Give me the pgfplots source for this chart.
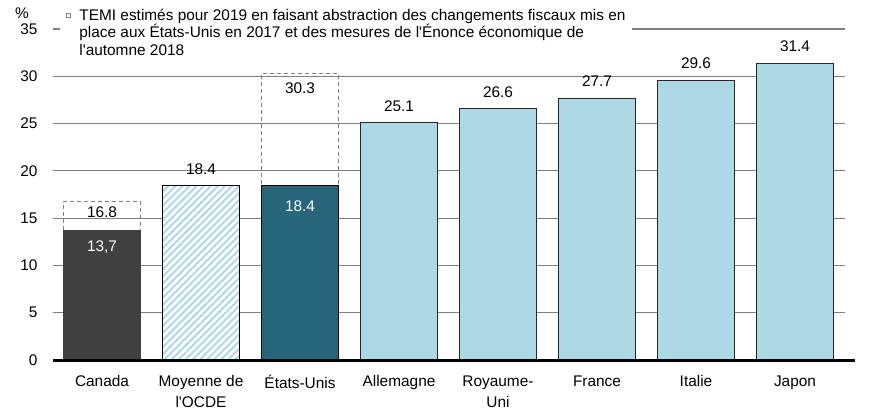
\documentclass[border=0pt]{standalone}
\usepackage{fontspec}
\setmainfont{Liberation Sans}
\usepackage{pgfplots}
\pgfplotsset{compat=1.18}
\usetikzlibrary{patterns.meta}
\definecolor{cdark}{HTML}{404040}
\definecolor{cteal}{HTML}{27667A}
\definecolor{clight}{HTML}{ADD8E6}
\definecolor{cgrid}{HTML}{808080}
\newcommand{\q}{\textquotesingle}
\begin{document}
\fontsize{7.7}{9}\selectfont
\begin{tikzpicture}
\begin{axis}[
  at={(0,0)}, anchor=south west,
  scale only axis, width=396pt, height=165.5pt,
  xmin=-0.495, xmax=7.505, ymin=0, ymax=35,
  axis line style={draw=none},
  xtick={0,...,7},
  xticklabels={Canada, {Moyenne de\\l\q OCDE}, États-Unis, Allemagne, {Royaume-\\Uni}, France, Italie, Japon},
  xticklabel style={align=center, font=\fontsize{7.7}{10.5}\selectfont, anchor=north, yshift=-5pt},
  ytick={0,5,...,35},
  yticklabel style={font=\fontsize{7.7}{9}\selectfont, xshift=-5pt},
  tick style={draw=none},
  ymajorgrids, grid style={cgrid, line width=0.6pt},
  /pgf/number format/assume math mode=true,
  bar width=0.77,
  clip=false,
  point meta=explicit symbolic,
  every node near coord/.append style={font=\fontsize{7.7}{9}\selectfont, inner sep=0pt},
]
% dashed boxes (estimates)
\addplot[ybar, bar shift=0pt, draw=gray, dash pattern=on 2pt off 1.5pt, line width=0.6pt, fill=none,
  nodes near coords, nodes near coords style={anchor=north, yshift=-2.5pt}]
  coordinates {(0,16.8) [16.8]};
\addplot[ybar, bar shift=0pt, draw=gray, dash pattern=on 2pt off 1.5pt, line width=0.6pt, fill=none,
  nodes near coords, nodes near coords style={anchor=north, yshift=-4.2pt}]
  coordinates {(2,30.3) [30.3]};
% Canada
\addplot[ybar, bar shift=0pt, fill=cdark, draw=cdark, line width=0.5pt,
  nodes near coords, nodes near coords style={anchor=north, yshift=-5pt, text=white}]
  coordinates {(0,13.7) [{13,7}]};
% OECD average
\addplot[ybar, bar shift=0pt, fill=white, draw=black, line width=0.5pt,
  postaction={pattern={Lines[angle=45,distance=2.5pt,line width=1pt]}, pattern color=clight},
  nodes near coords, nodes near coords style={anchor=south, yshift=5.3pt}]
  coordinates {(1,18.4) [18.4]};
% United States
\addplot[ybar, bar shift=0pt, fill=cteal, draw=black, line width=0.5pt,
  nodes near coords, nodes near coords style={anchor=north, yshift=-7pt, text=white}]
  coordinates {(2,18.4) [18.4]};
% Others
\addplot[ybar, bar shift=0pt, fill=clight, draw=black!85, line width=0.5pt,
  nodes near coords, nodes near coords style={anchor=south, yshift=5.3pt}]
  coordinates {(3,25.1) [25.1] (4,26.6) [26.6] (5,27.7) [27.7] (6,29.6) [29.6] (7,31.4) [31.4]};
\end{axis}
% x axis line
\draw[line width=1.5pt] (0,0) -- (401pt,0);
% percent sign
\node[font=\fontsize{7.7}{9}\selectfont] at (-15.5pt,173.5pt) {\%};
% legend
\fill[white] (3.5pt,160pt) rectangle (289.5pt,180pt);
\draw[gray, line width=0.4pt] (6.5pt,171.5pt) rectangle (8.5pt,173.5pt);
\node[anchor=base west, inner sep=0pt, font=\fontsize{7.7}{9}\selectfont] at (13pt,169.65pt) {TEMI estimés pour 2019 en faisant abstraction des changements fiscaux mis en};
\node[anchor=base west, inner sep=0pt, font=\fontsize{7.7}{9}\selectfont] at (13pt,161.25pt) {place aux États-Unis en 2017 et des mesures de l\q Énonce économique de};
\node[anchor=base west, inner sep=0pt, font=\fontsize{7.7}{9}\selectfont] at (13pt,152.5pt) {l\q automne 2018};
\pgfresetboundingbox
\useasboundingbox (-26.5pt,-29pt) rectangle (408.5pt,180pt);
\end{tikzpicture}
\end{document}
